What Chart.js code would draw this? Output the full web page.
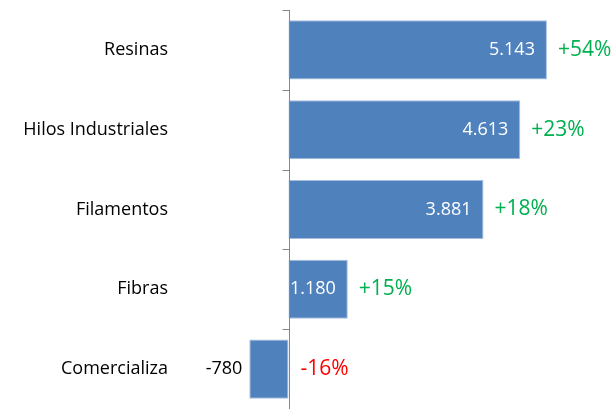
<!DOCTYPE html>
<html>
<head>
<meta charset="utf-8">
<script src="https://cdn.jsdelivr.net/npm/chart.js@4"></script>
<style>
  html, body { margin: 0; padding: 0; background: #ffffff; }
  #wrap { width: 614px; height: 409px; }
</style>
</head>
<body>
<div id="wrap"><canvas id="barChart"></canvas></div>
<script>
Chart.defaults.font.family = "'Open Sans', sans-serif";
Chart.defaults.color = "#000000";

const categories = ["Resinas", "Hilos Industriales", "Filamentos", "Fibras", "Comercializa"];
const values = [5143, 4613, 3881, 1180, -780];
const changes = ["+54%", "+23%", "+18%", "+15%", "-16%"];

function fmt(v) {
  return v.toLocaleString("de-DE");
}

// axis line at zero with small ticks between categories, plus labels
const labelsPlugin = {
  id: "labelsPlugin",
  afterDatasetsDraw(chart) {
    const ctx = chart.ctx;
    const x = chart.scales.x;
    const y = chart.scales.y;
    const x0 = Math.round(x.getPixelForValue(0)) + 0.5;

    ctx.save();
    ctx.strokeStyle = "#868686";
    ctx.lineWidth = 1;
    ctx.beginPath();
    ctx.moveTo(x0, chart.chartArea.top);
    ctx.lineTo(x0, chart.height);
    for (let i = 0; i < categories.length; i++) {
      const ty = Math.round(y.getPixelForValue(i - 0.5)) + 0.5;
      ctx.moveTo(x0 - 7, ty);
      ctx.lineTo(x0, ty);
    }
    ctx.stroke();

    const meta = chart.getDatasetMeta(0);
    ctx.textBaseline = "middle";
    meta.data.forEach((bar, i) => {
      const v = values[i];
      const yc = bar.y;
      ctx.font = "18px 'Open Sans', sans-serif";
      if (v >= 0) {
        ctx.fillStyle = "#ffffff";
        ctx.textAlign = "right";
        ctx.fillText(fmt(v), bar.x - 12, yc);
      } else {
        ctx.fillStyle = "#000000";
        ctx.textAlign = "right";
        ctx.fillText(fmt(v), bar.x - 7, yc);
      }
      ctx.font = "21px 'Open Sans', sans-serif";
      ctx.textAlign = "left";
      ctx.fillStyle = changes[i].startsWith("-") ? "#ff0000" : "#00b050";
      ctx.fillText(changes[i], Math.max(bar.x, x0) + 11, yc);
    });
    ctx.restore();
  },
};

new Chart(document.getElementById("barChart"), {
  type: "bar",
  data: {
    labels: categories,
    datasets: [
      {
        data: values,
        backgroundColor: "#4f81bd",
        borderColor: "#a7bedf",
        borderWidth: 1,
        borderSkipped: false,
        barPercentage: 0.74,
        categoryPercentage: 1,
      },
    ],
  },
  options: {
    indexAxis: "y",
    responsive: true,
    maintainAspectRatio: false,
    animation: false,
    layout: { padding: { top: 10, right: 24, bottom: 0, left: 0 } },
    plugins: {
      legend: { display: false },
      tooltip: { enabled: false },
    },
    scales: {
      x: {
        display: false,
        min: -2000,
        max: 6000,
      },
      y: {
        grid: { display: false, drawTicks: true, tickLength: 20 },
        border: { display: false },
        afterFit(scale) {
          scale.width = 188;
          scale.paddingTop = 0;
          scale.paddingBottom = 0;
        },
        ticks: {
          padding: 0,
          color: "#000000",
          font: { size: 18 },
        },
      },
    },
  },
  plugins: [labelsPlugin],
});
</script>
</body>
</html>
